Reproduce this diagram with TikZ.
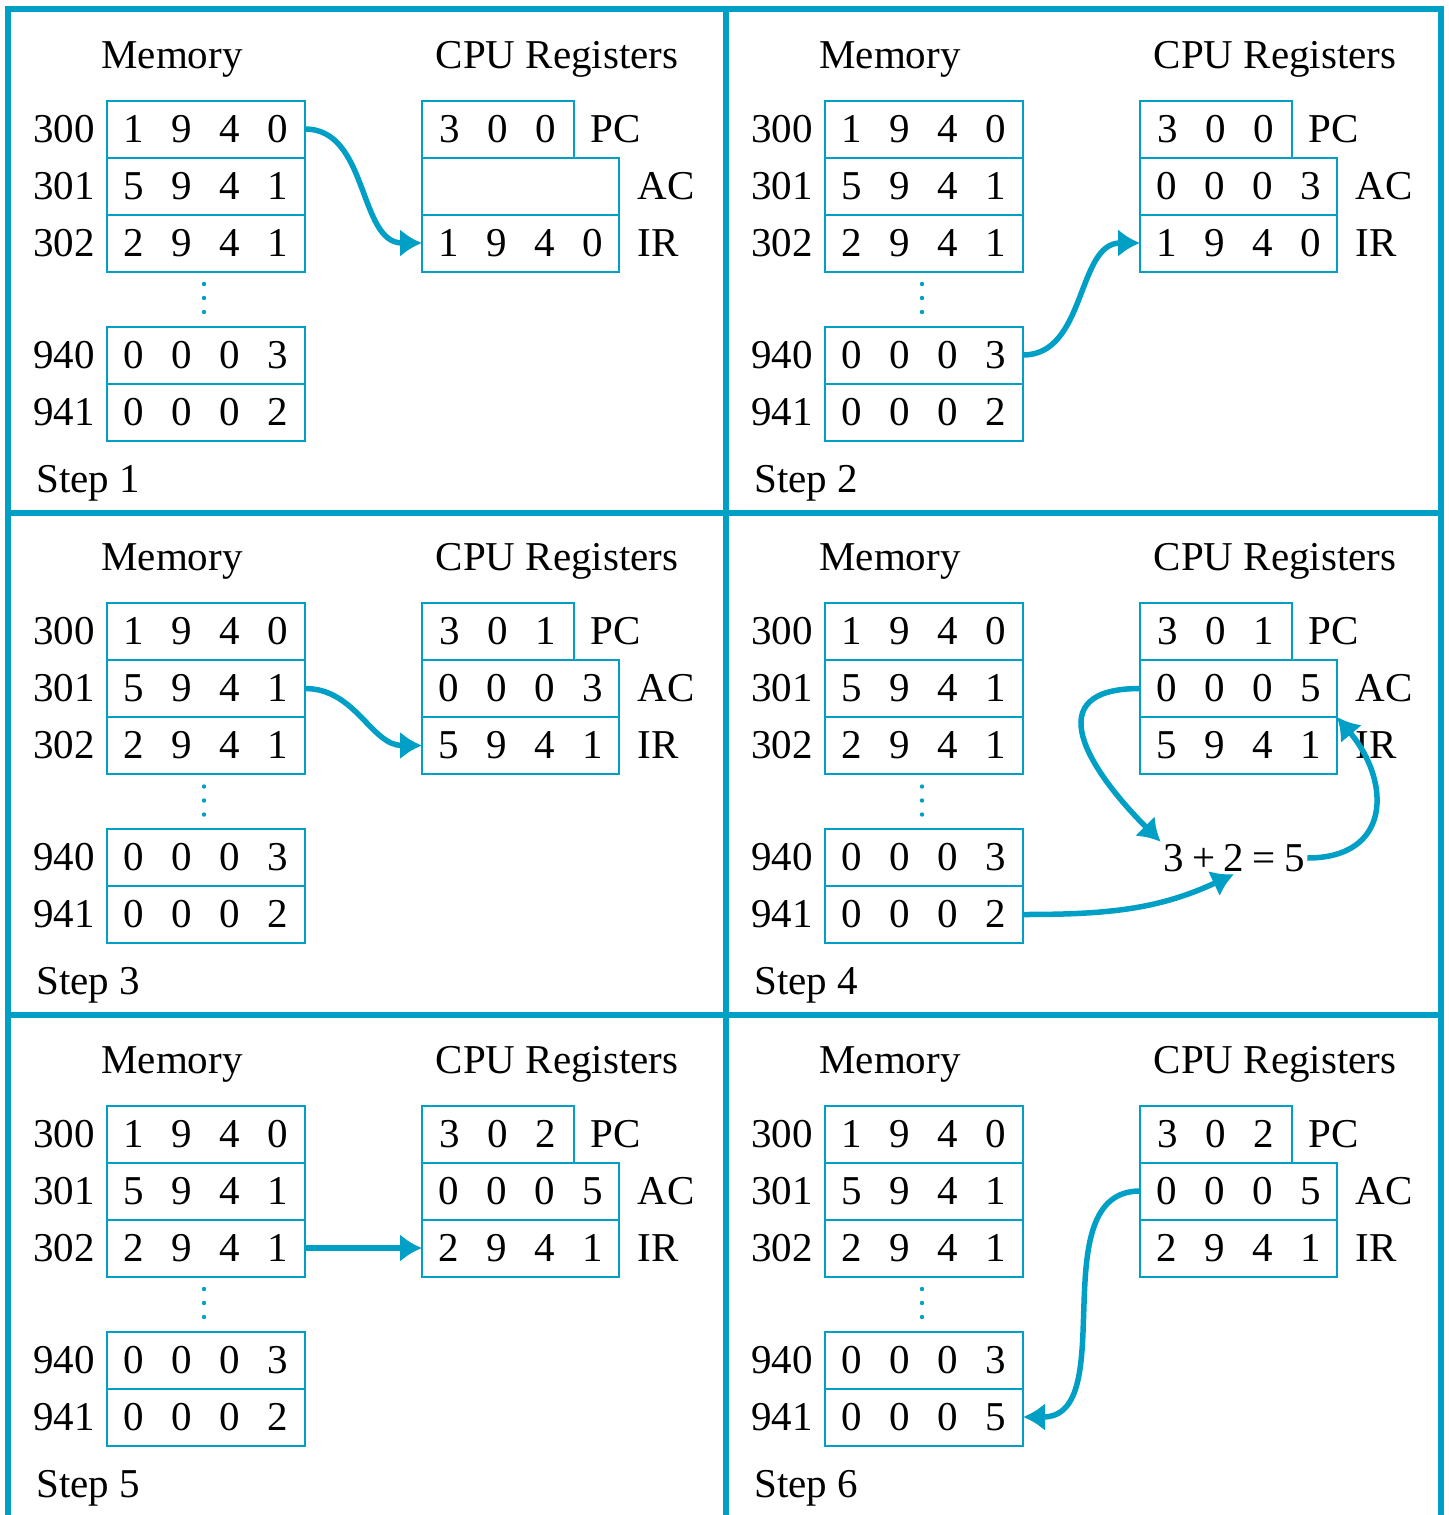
\documentclass[tikz,border=0pt]{standalone}
\usepackage{fontspec}
\setmainfont{Liberation Serif}
\usetikzlibrary{arrows.meta,positioning,calc}
\definecolor{cpucyan}{RGB}{0,160,198}
\newcommand{\dsep}{\hspace{13.75pt}}
\newcommand{\digfour}[4]{#1\dsep#2\dsep#3\dsep#4}
\newcommand{\digthree}[3]{#1\dsep#2\dsep#3}
\tikzset{
cell/.style  = {draw=cpucyan, line width=1pt, rectangle, outer sep=0pt, inner sep=0pt, minimum width=99pt, minimum height=28.5pt},
reg/.style   = {cell, minimum width=98.5pt},
pcreg/.style = {cell, minimum width=76pt},
addr/.style  = {inner sep=0pt},
title/.style = {anchor=base, inner sep=0pt},
flow/.style  = {->, draw=cpucyan, line width=2.75pt},
frame/.style = {draw=cpucyan, line width=3.25pt}
}

% #1 step, #2 offset, #3 PC, #4 AC, #5 IR, #6 word at 941
\newcommand{\cpupanel}[6]{%
\begin{scope}[shift={(#2)}]
  \node [title]                        (mem-#1)  at (172,68)  {Memory};
  \node [title]                        (cpu-#1)  at (557,68)  {CPU Registers};
  \node [anchor=base west, inner sep=0pt] (step-#1) at (36,492) {Step #1};

  \node [cell]                         (m300-#1) at (206,129) {\digfour1940};
  \node [cell, below=0pt of m300-#1]   (m301-#1) {\digfour5941};
  \node [cell, below=0pt of m301-#1]   (m302-#1) {\digfour2941};
  \node [cell]                         (m940-#1) at (206,355) {\digfour0003};
  \node [cell, below=0pt of m940-#1]   (m941-#1) {#6};
  \foreach \a in {300,301,302,940,941}
    \node [addr, left=6pt of m\a-#1] (a\a-#1) {\a};
  \foreach \d in {284,298,312}
    \fill [cpucyan] (204,\d) circle (1.1pt);

  \node [pcreg]                        (pc-#1)   at (498,129) {#3};
  \node [reg, below=0pt of pc-#1.south west, anchor=north west] (ac-#1) {#4};
  \node [reg, below=0pt of ac-#1]      (ir-#1)   {#5};
  \node [addr, right=8pt of pc-#1]     (pcl-#1)  {PC};
  \node [addr, right=9pt of ac-#1]     (acl-#1)  {AC};
  \node [addr, right=9pt of ir-#1]     (irl-#1)  {IR};
\end{scope}}

\begin{document}
\begin{tikzpicture}[x=0.5pt, y=-0.5pt, >={Latex[length=11pt,width=14pt]}, font=\fontsize{20.5}{24}\selectfont]
  \useasboundingbox (0,0) rectangle (1448,1515);

  \cpupanel{1}{0,0}{\digthree300}{}{\digfour1940}{\digfour0002}
  \cpupanel{2}{718,0}{\digthree300}{\digfour0003}{\digfour1940}{\digfour0002}
  \cpupanel{3}{0,502.5}{\digthree301}{\digfour0003}{\digfour5941}{\digfour0002}
  \cpupanel{4}{718,502.5}{\digthree301}{\digfour0005}{\digfour5941}{\digfour0002}
  \cpupanel{5}{0,1005}{\digthree302}{\digfour0005}{\digfour2941}{\digfour0002}
  \cpupanel{6}{718,1005}{\digthree302}{\digfour0005}{\digfour2941}{\digfour0005}

  \node [inner sep=1pt] (sum-4) at (1234,858) {3\hspace{4.25pt}+\hspace{4.25pt}2\hspace{4.25pt}=\hspace{4.25pt}5};

  \draw [flow] (m300-1.east) to[out=0,in=180] (ir-1.west);
  \draw [flow] (m940-2.east) to[out=0,in=180] (ir-2.west);
  \draw [flow] (m301-3.east) to[out=0,in=180] (ir-3.west);
  \draw [flow] (ac-4.west) to[out=180,in=135,looseness=1.7] (sum-4.north west);
  \draw [flow] (m941-4.east) to[out=0,in=205] (sum-4.south);
  \draw [flow] (sum-4.east) to[out=0,in=-50,looseness=1.5] (ac-4.south east);
  \draw [flow] (m302-5.east) -- (ir-5.west);
  \draw [flow] (ac-6.west) to[out=180,in=0] (m941-6.east);

  \draw [frame] (8,9) rectangle (1441,1518);
  \draw [frame] (726,9) -- (726,1518);
  \draw [frame] (8,513) -- (1441,513);
  \draw [frame] (8,1015) -- (1441,1015);
\end{tikzpicture}
\end{document}
